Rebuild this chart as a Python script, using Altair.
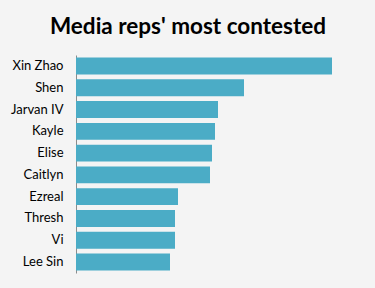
import altair as alt
import pandas as pd

champions = ["Xin Zhao", "Shen", "Jarvan IV", "Kayle", "Elise", "Caitlyn", "Ezreal", "Thresh", "Vi", "Lee Sin"]
contested = [51.2, 33.6, 28.4, 27.8, 27.2, 26.8, 20.4, 19.8, 19.8, 18.8]

df = pd.DataFrame({"champion": champions, "value": contested})

chart = alt.Chart(df).mark_bar(color="#4bacc6").encode(
    y=alt.Y("champion:N", sort=champions, title=None,
            scale=alt.Scale(paddingInner=0.22, paddingOuter=0.12),
            axis=alt.Axis(ticks=False, domainColor="#8c8c8c", domainWidth=1,
                          labelFont="Lato", labelFontSize=13, labelColor="#000000",
                          labelPadding=13)),
    x=alt.X("value:Q", title=None, axis=None, scale=alt.Scale(domain=[0, 56], nice=False)),
).properties(
    width=280,
    height=218,
    autosize=alt.AutoSizeParams(type="none"),
    padding={"left": 76, "top": 55, "right": 19, "bottom": 15},
    background="#f4f4f4",
    title=alt.TitleParams("Media reps' most contested", font="Lato", fontSize=22.5,
                          fontWeight="bold", color="#000000", anchor="middle",
                          dx=-28, baseline="alphabetic", offset=-1),
).configure_view(stroke=None)

chart.save("out.html", embed_options={"renderer": "svg", "actions": False})
